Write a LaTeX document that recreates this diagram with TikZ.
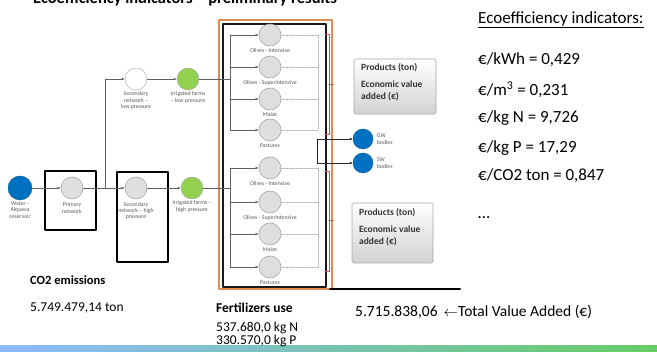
\documentclass[tikz,border=0pt]{standalone}
\usepackage{fontspec}
\setmainfont{Carlito}
\usetikzlibrary{positioning,arrows.meta}
\definecolor{lakeblue}{RGB}{0,112,192}
\definecolor{farmgreen}{RGB}{146,208,80}
\definecolor{frameorange}{RGB}{224,140,86}
\definecolor{bracered}{RGB}{200,80,70}
\tikzset{
  hub/.style={circle,draw=gray!70,fill=gray!25,minimum size=22pt,inner sep=0pt,line width=0.6pt},
  lake/.style={circle,draw=lakeblue!80!black,fill=lakeblue,minimum size=24pt,inner sep=0pt},
  farm/.style={circle,draw=gray!70,fill=farmgreen,minimum size=22pt,inner sep=0pt},
  tiny/.style={font=\fontsize{5.8}{6.3}\selectfont,align=center,text=gray!70!black,inner sep=0.5pt},
  flow/.style={draw=gray!75!black,line width=0.5pt,-{Latex[length=3pt,width=2.5pt]}},
  pipe/.style={draw=gray!75!black,line width=0.5pt},
  back/.style={draw=gray!60,dashed,line width=0.5pt,dash pattern=on 1.5pt off 1pt},
  brace/.style={draw=bracered,line width=1pt},
  prodbox/.style={draw=gray!70,rounded corners=1.5pt,top color=white,bottom color=gray!35,line width=0.6pt},
  prodtxt/.style={anchor=north west,align=left,inner sep=0pt,font=\bfseries\fontsize{9.5}{12}\selectfont,text=gray!40!black},
  txt/.style={anchor=west,inner sep=0pt,font=\fontsize{17}{19}\selectfont}
}
\begin{document}
\begin{tikzpicture}[x=1pt,y=-1pt,line cap=round,line join=round]
\useasboundingbox (0,0) rectangle (657,352);
\clip (0,0) rectangle (657,352);
% title, cut at the top
\node[anchor=base west,inner sep=0pt,font=\bfseries\fontsize{16.5}{18}\selectfont] (title) at (33,4) {Ecoefficiency indicators -- preliminary results};
% bottom band
\shade[left color=cyan!40!blue!45,right color=green!50!gray!80] (0,346) rectangle (657,352);

% water source and primary network
\node[lake] (water) at (20,188) {};
\node[tiny,below=1pt of water] (water-t) {Water -\\Alqueva\\reservoir};
\draw[line width=1.2pt] (45,171) rectangle (96,230);
\node[hub] (prim) at (72,188) {};
\node[tiny,below=3pt of prim] (prim-t) {Primary\\network};
\draw[line width=1.2pt] (117,172) rectangle (168,262);
\node[hub] (sech) at (136,188) {};
\node[tiny,below=2pt of sech] (sech-t) {Secondary\\network -- high\\pressure};
\node[farm] (farmh) at (192,188) {};
\node[tiny,below=1pt of farmh] (farmh-t) {Irrigated farms --\\high pressure};
\node[circle,draw=gray!70,fill=white,minimum size=22pt,inner sep=0pt] (secl) at (136,79) {};
\node[tiny,below=1pt of secl] (secl-t) {Secondary\\network --\\low pressure};
\node[farm] (farml) at (188,79) {};
\node[tiny,below=1pt of farml] (farml-t) {Irrigated farms\\-- low pressure};
\coordinate (split) at (105,188);
\coordinate (rise) at (105,79);
\draw[flow] (water) -- (prim);
\draw[flow] (prim) -- (sech);
\draw[pipe] (split) -- (rise);
\draw[flow] (rise) -- (secl);
\draw[flow] (secl) -- (farml);
\draw[flow] (sech) -- (farmh);

% crop block
\draw[frameorange,line width=1.2pt] (219,20) rectangle (332,289);
\draw[line width=1.6pt,gray!20!black] (223,24) rectangle (326,287);
\coordinate (inA) at (230,79);
\coordinate (inB) at (230,188);
\draw[pipe] (farml) -- (inA);
\draw[pipe] (farmh) -- (inB);
\foreach \n/\y/\lab in {a1/35/Olives - Intensive,a2/67/Olives - Superintensive,a3/99/Maize,a4/130/Pastures,
                        b1/168/Olives - Intensive,b2/202/Olives - Superintensive,b3/234/Maize,b4/267/Pastures}{
  \node[hub] (\n) at (270,\y) {};
  \node[tiny,below=1.5pt of \n] (\n-t) {\lab};
  \draw[flow] (230,\y) -- (\n);
  \draw[back] (\n) -- (318,\y);
}
\draw[pipe] (230,35) -- (230,130);
\draw[pipe] (230,168) -- (230,267);
\draw[back] (318,35) -- (318,130);
\draw[back] (318,168) -- (318,267);
\draw[brace] (325,35) -- (329,35) -- (329,135) -- (325,135) (329,85) -- (333,85);
\draw[brace] (325,172) -- (329,172) -- (329,272) -- (325,272) (329,221) -- (333,221);

% outflows
\node[lake,minimum size=20pt] (gw) at (363,139) {};
\node[lake,minimum size=20pt] (sw) at (363,163) {};
\node[tiny,anchor=west,right=3pt of gw,align=left] (gw-t) {GW\\bodies};
\node[tiny,anchor=west,right=3pt of sw,align=left] (sw-t) {SW\\bodies};
\coordinate (outA) at (317,139);
\coordinate (outB) at (317,163);
\draw[pipe,gray!30!black] (outA) -- (outB);
\draw[flow,gray!30!black] (outA) -- (gw);
\draw[flow,gray!30!black] (outB) -- (sw);

% products
\draw[prodbox] (354,59) rectangle (436,114);
\node[prodtxt] (prodA) at (361,63) {Products (ton)\\[5pt]Economic value\\added (€)};
\draw[prodbox] (352,203) rectangle (433,263);
\node[prodtxt] (prodB) at (359,208) {Products (ton)\\[5pt]Economic value\\added (€)};

% totals
\draw[line width=2pt] (330,289) -- (460,289);
\node[txt,font=\fontsize{15.5}{17}\selectfont] (total) at (355,312) {5.715.838,06 \,$\leftarrow$Total Value Added (€)};
\node[txt,font=\bfseries\fontsize{12.5}{14}\selectfont] (co2) at (30,280) {CO2 emissions};
\node[txt,font=\fontsize{13.5}{15}\selectfont] (co2v) at (30,308) {5.749.479,14 ton};
\node[txt,font=\bfseries\fontsize{13.5}{15}\selectfont] (fert) at (216,308) {Fertilizers use};
\node[txt,font=\fontsize{13.5}{15}\selectfont] (fertN) at (216,328) {537.680,0 kg N};
\node[txt,font=\fontsize{13.5}{15}\selectfont] (fertP) at (216,341) {330.570,0 kg P};

% indicators
\node[txt] (ind) at (478,20) {\underline{Ecoefficiency indicators:}};
\node[txt] (i1) at (478,60) {€/kWh = 0,429};
\node[txt] (i2) at (478,90) {€/m\textsuperscript{3} = 0,231};
\node[txt] (i3) at (478,118) {€/kg N = 9,726};
\node[txt] (i4) at (478,148) {€/kg P = 17,29};
\node[txt] (i5) at (478,176) {€/CO2 ton = 0,847};
\node[txt] (i6) at (478,218) {\dots};
\end{tikzpicture}
\end{document}
